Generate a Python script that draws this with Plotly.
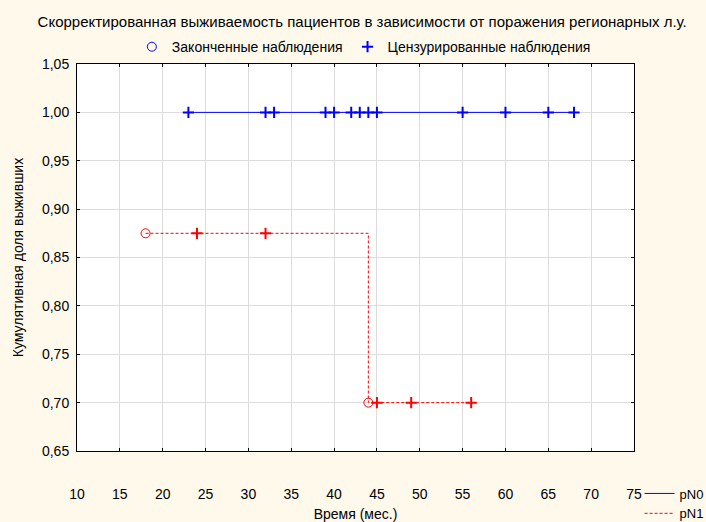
import plotly.graph_objects as go

# Data
pn0_line_t = [23, 68]
pn0_line_s = [1.0, 1.0]
pn0_cens_t = [23, 32, 33, 39, 40, 42, 43, 44, 45, 55, 60, 65, 68]
pn0_cens_s = [1.0] * 13

pn1_line_t = [18, 44, 56]
pn1_line_s = [0.875, 0.70, 0.70]
pn1_event_t = [18, 44]
pn1_event_s = [0.875, 0.70]
pn1_cens_t = [24, 32, 45, 49, 56]
pn1_cens_s = [0.875, 0.875, 0.70, 0.70, 0.70]

x_ticks = list(range(10, 80, 5))
y_ticks = [0.65, 0.70, 0.75, 0.80, 0.85, 0.90, 0.95, 1.00, 1.05]

BLUE = "#0000FF"
RED = "#FF0000"
BG = "#FFF9EC"
FONT = "Liberation Sans, Arial, sans-serif"

fig = go.Figure()

fig.add_trace(go.Scatter(x=pn0_line_t, y=pn0_line_s, mode="lines", line=dict(color=BLUE, width=1),
                         line_shape="hv", name="pN0", legend="legend2"))
fig.add_trace(go.Scatter(x=pn1_line_t, y=pn1_line_s, mode="lines",
                         line=dict(color=RED, width=1, dash="3px,2px"),
                         line_shape="hv", name="pN1", legend="legend2"))
fig.add_trace(go.Scatter(x=pn0_cens_t, y=pn0_cens_s, mode="markers", showlegend=False,
                         marker=dict(symbol="cross-thin", size=8, line=dict(color=BLUE, width=2))))
fig.add_trace(go.Scatter(x=pn1_cens_t, y=pn1_cens_s, mode="markers", showlegend=False,
                         marker=dict(symbol="cross-thin", size=8, line=dict(color=RED, width=2))))
fig.add_trace(go.Scatter(x=pn1_event_t, y=pn1_event_s, mode="markers", showlegend=False,
                         marker=dict(symbol="circle-open", size=9, color=RED, line=dict(color=RED, width=1))))

# top legend entries
fig.add_trace(go.Scatter(x=[None], y=[None], mode="markers", name="Законченные наблюдения", legend="legend",
                         marker=dict(symbol="circle-open", size=9, color=BLUE, line=dict(color=BLUE, width=1))))
fig.add_trace(go.Scatter(x=[None], y=[None], mode="markers", name="Цензурированные наблюдения", legend="legend",
                         marker=dict(symbol="cross-thin", size=8, line=dict(color=BLUE, width=2))))

fig.update_layout(
    width=706, height=522,
    margin=dict(l=77, r=72, t=64, b=71, autoexpand=False),
    paper_bgcolor=BG,
    plot_bgcolor="#FFFFFF",
    separators=", ",
    font=dict(family=FONT, size=14, color="#000000"),
    title=dict(text="Скорректированная выживаемость пациентов в зависимости от поражения регионарных л.у.",
               x=0.513, xanchor="center", xref="container", y=0.958, yanchor="middle", font=dict(size=15)),
    legend=dict(orientation="h", x=0.515, xanchor="center", y=1.085, yanchor="top",
                font=dict(size=14), bgcolor="rgba(0,0,0,0)", itemwidth=30, traceorder="normal"),
    legend2=dict(orientation="v", x=1.010, xanchor="left", y=-0.071, yanchor="top",
                 font=dict(size=13), bgcolor="rgba(0,0,0,0)", tracegroupgap=0, itemwidth=30),
    xaxis=dict(range=[10, 75], tickvals=x_ticks, showgrid=True, gridcolor="#DCDCDC", gridwidth=1,
               showline=True, linecolor="#000000", linewidth=1, mirror="ticks",
               ticks="inside", ticklen=3, tickcolor="#000000", zeroline=False,
               ticklabelstandoff=30,
               title=dict(text="Время (мес.)", standoff=13, font=dict(size=14))),
    yaxis=dict(range=[0.65, 1.05], tickvals=y_ticks, tickformat=".2f", showgrid=True, gridcolor="#DCDCDC",
               gridwidth=1, showline=True, linecolor="#000000", linewidth=1, mirror="ticks",
               ticks="inside", ticklen=3, tickcolor="#000000", zeroline=False,
               ticklabelstandoff=4,
               title=dict(text="Кумулятивная доля выживших", standoff=15, font=dict(size=14))),
)

fig.write_html("out.html", config={"displayModeBar": False},
               post_script="document.body.style.margin='0';document.body.style.background='" + BG + "';")
